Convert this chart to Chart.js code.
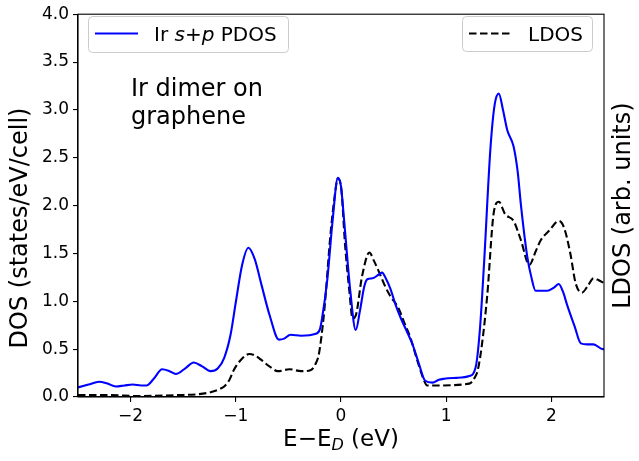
<!DOCTYPE html>
<html>
<head>
<meta charset="utf-8">
<script src="https://cdn.jsdelivr.net/npm/chart.js@4.4.1/dist/chart.umd.min.js"></script>
<style>
html,body{margin:0;padding:0;background:#fff;}
#wrap{width:639px;height:461px;position:relative;}
</style>
</head>
<body>
<div id="wrap"><canvas id="c" width="639" height="461"></canvas></div>
<script>
// ---- data ----
const pdosX = [-2.5,-2.40,-2.30,-2.22,-2.14,-2.06,-1.98,-1.90,-1.85,-1.78,-1.70,-1.63,-1.57,-1.48,-1.40,-1.32,-1.24,-1.17,-1.11,-1.05,-1.00,-0.94,-0.88,-0.82,-0.76,-0.68,-0.59,-0.54,-0.48,-0.38,-0.24,-0.20,-0.18,-0.13,-0.08,-0.03,0.00,0.03,0.09,0.14,0.18,0.22,0.25,0.30,0.36,0.39,0.43,0.47,0.52,0.57,0.62,0.68,0.74,0.80,0.87,0.93,0.98,1.10,1.22,1.28,1.32,1.36,1.42,1.46,1.50,1.54,1.58,1.64,1.68,1.71,1.77,1.81,1.85,1.96,2.02,2.07,2.11,2.15,2.22,2.28,2.34,2.40,2.49,2.5];
const pdosY = [0.10,0.13,0.16,0.14,0.11,0.12,0.13,0.12,0.12,0.19,0.29,0.27,0.24,0.30,0.36,0.32,0.27,0.30,0.41,0.65,0.99,1.38,1.56,1.44,1.19,0.86,0.60,0.61,0.65,0.64,0.66,0.71,0.82,1.23,1.84,2.29,2.20,1.84,1.09,0.70,0.90,1.15,1.23,1.24,1.28,1.30,1.23,1.13,0.96,0.82,0.70,0.55,0.35,0.17,0.15,0.18,0.19,0.20,0.22,0.31,0.70,1.40,2.59,3.05,3.17,3.00,2.79,2.62,2.35,2.01,1.47,1.25,1.11,1.11,1.14,1.18,1.10,0.96,0.74,0.56,0.55,0.55,0.50,0.50];
const ldosX = [-2.5,-2.2,-1.93,-1.55,-1.35,-1.24,-1.16,-1.11,-1.06,-1.02,-0.95,-0.87,-0.81,-0.76,-0.68,-0.60,-0.49,-0.38,-0.29,-0.24,-0.21,-0.16,-0.10,-0.06,-0.03,0.00,0.04,0.08,0.11,0.14,0.20,0.27,0.31,0.36,0.41,0.46,0.55,0.60,0.66,0.72,0.78,0.82,0.88,1.22,1.27,1.30,1.34,1.39,1.45,1.50,1.56,1.64,1.71,1.79,1.85,1.90,1.98,2.07,2.12,2.18,2.23,2.29,2.34,2.40,2.45,2.5];
const ldosY = [0.02,0.02,0.01,0.02,0.03,0.05,0.08,0.11,0.18,0.28,0.39,0.45,0.43,0.39,0.32,0.27,0.29,0.27,0.28,0.35,0.45,0.89,1.70,2.10,2.28,2.20,1.57,1.10,0.82,0.85,1.26,1.51,1.43,1.31,1.18,1.07,0.92,0.78,0.62,0.40,0.20,0.12,0.12,0.14,0.20,0.28,0.55,1.06,1.91,2.04,1.91,1.84,1.64,1.38,1.52,1.64,1.74,1.84,1.77,1.50,1.19,1.09,1.15,1.24,1.22,1.19];
const xTicks = [-2,-1,0,1,2];
const yTicks = [0,0.5,1,1.5,2,2.5,3,3.5,4];
const seriesNames = ['Ir s+p PDOS','LDOS'];
const annotationLines = ['Ir dimer on','graphene'];
const yTitle = 'DOS (states/eV/cell)';
const y2Title = 'LDOS (arb. units)';

const FONT = '"DejaVu Sans", sans-serif';
const toPts = (xs, ys) => xs.map((x,i)=>({x:x, y:ys[i]}));

function roundRect(ctx,x,y,w,h,r){
  ctx.beginPath();
  ctx.moveTo(x+r,y);
  ctx.lineTo(x+w-r,y); ctx.quadraticCurveTo(x+w,y,x+w,y+r);
  ctx.lineTo(x+w,y+h-r); ctx.quadraticCurveTo(x+w,y+h,x+w-r,y+h);
  ctx.lineTo(x+r,y+h); ctx.quadraticCurveTo(x,y+h,x,y+h-r);
  ctx.lineTo(x,y+r); ctx.quadraticCurveTo(x,y,x+r,y);
  ctx.closePath();
}

const decor = {
  id:'decor',
  afterDraw(chart){
    const ctx = chart.ctx, a = chart.chartArea;
    ctx.save();
    // frame
    ctx.strokeStyle = '#000'; ctx.lineWidth = 1.1;
    ctx.strokeRect(a.left, a.top, a.right-a.left, a.bottom-a.top);
    ctx.fillStyle = '#000';
    // y titles
    ctx.font = '24px ' + FONT;
    ctx.textAlign = 'center'; ctx.textBaseline = 'middle';
    ctx.save(); ctx.translate(21,228); ctx.rotate(-Math.PI/2);
    ctx.fillText(yTitle,0,0); ctx.restore();
    ctx.save(); ctx.translate(624,(a.top+a.bottom)/2); ctx.rotate(-Math.PI/2);
    ctx.fillText(y2Title,0,0); ctx.restore();
    // x title E−E_D (eV)
    ctx.textBaseline = 'alphabetic'; ctx.textAlign = 'left';
    const p1 = 'E\u2212E', p3 = ' (eV)';
    ctx.font = '23px ' + FONT; const w1 = ctx.measureText(p1).width, w3 = ctx.measureText(p3).width;
    ctx.font = 'italic 16px ' + FONT; const w2 = ctx.measureText('D').width;
    const cx = (a.left+a.right)/2; let sx = cx - (w1+w2+w3)/2; const by = 446;
    ctx.font = '23px ' + FONT; ctx.fillText(p1,sx,by); sx += w1;
    ctx.font = 'italic 16px ' + FONT; ctx.fillText('D',sx,by+4); sx += w2;
    ctx.font = '23px ' + FONT; ctx.fillText(p3,sx,by);
    // annotation
    ctx.font = '24px ' + FONT;
    ctx.fillText(annotationLines[0],131,96);
    ctx.fillText(annotationLines[1],131,124);
    // legends
    const drawBox = (x,y,w,h)=>{
      roundRect(ctx,x,y,w,h,4);
      ctx.fillStyle='rgba(255,255,255,0.8)'; ctx.fill();
      ctx.strokeStyle='#cccccc'; ctx.lineWidth=1; ctx.stroke();
    };
    drawBox(88.5,16.5,200,36);
    ctx.strokeStyle='#0000ff'; ctx.lineWidth=2; ctx.setLineDash([]);
    ctx.beginPath(); ctx.moveTo(95,33.5); ctx.lineTo(138,33.5); ctx.stroke();
    ctx.fillStyle='#000';
    let lx = 154; const lb = 41;
    ctx.font = '20px ' + FONT; ctx.fillText('Ir ',lx,lb); lx += ctx.measureText('Ir ').width;
    ctx.font = 'italic 20px ' + FONT; ctx.fillText('s',lx,lb); lx += ctx.measureText('s').width;
    ctx.font = '20px ' + FONT; ctx.fillText('+',lx,lb); lx += ctx.measureText('+').width;
    ctx.font = 'italic 20px ' + FONT; ctx.fillText('p',lx,lb); lx += ctx.measureText('p').width;
    ctx.font = '20px ' + FONT; ctx.fillText(' PDOS',lx,lb);
    drawBox(462.5,16.5,130,35);
    ctx.strokeStyle='#000'; ctx.lineWidth=2; ctx.setLineDash([7.5,3.5]);
    ctx.beginPath(); ctx.moveTo(469,33.5); ctx.lineTo(512,33.5); ctx.stroke();
    ctx.setLineDash([]);
    ctx.fillStyle='#000'; ctx.font = '20px ' + FONT; ctx.fillText(seriesNames[1],528,lb);
    ctx.restore();
  }
};

new Chart(document.getElementById('c'), {
  type:'line',
  data:{datasets:[
    {label:seriesNames[0], data:toPts(pdosX,pdosY), borderColor:'#0000ff', borderWidth:2.1,
     pointRadius:0, fill:false, cubicInterpolationMode:'monotone'},
    {label:seriesNames[1], data:toPts(ldosX,ldosY), borderColor:'#000000', borderWidth:2.1,
     borderDash:[7.5,3.5], pointRadius:0, fill:false, cubicInterpolationMode:'monotone'}
  ]},
  options:{
    responsive:false, animation:false, devicePixelRatio:1,
    layout:{padding:{left:0,right:35,top:5,bottom:0}},
    plugins:{legend:{display:false}, tooltip:{enabled:false}},
    scales:{
      x:{type:'linear', min:-2.5, max:2.5,
        afterFit(s){ s.height = 64; },
        afterBuildTicks(s){ s.ticks = xTicks.map(v=>({value:v})); },
        grid:{drawOnChartArea:false, drawTicks:true, tickLength:5, color:'#000', lineWidth:1.1},
        border:{display:true, color:'#000', width:1.1},
        ticks:{color:'#000', font:{family:FONT, size:17}, padding:4, maxRotation:0,
          callback:(v)=> (v<0 ? '\u2212'+Math.abs(v) : String(v))}
      },
      y:{type:'linear', min:0, max:4,
        afterFit(s){ s.width = 78; },
        afterBuildTicks(s){ s.ticks = yTicks.map(v=>({value:v})); },
        grid:{drawOnChartArea:false, drawTicks:true, tickLength:5, color:'#000', lineWidth:1.1},
        border:{display:true, color:'#000', width:1.1},
        ticks:{color:'#000', font:{family:FONT, size:17}, padding:4,
          callback:(v)=> Number(v).toFixed(1)}
      }
    }
  },
  plugins:[decor]
});
</script>
</body>
</html>
